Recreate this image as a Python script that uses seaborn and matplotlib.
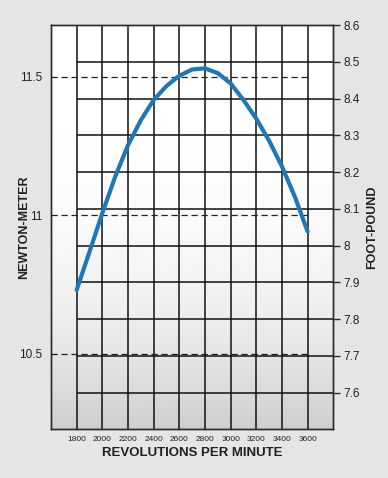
import numpy as np
import pandas as pd
import matplotlib
matplotlib.use("Agg")
import matplotlib.pyplot as plt
import seaborn as sns

# ---- data ----
rpm = [1800, 1900, 2000, 2100, 2200, 2300, 2400, 2500, 2600, 2700,
       2800, 2900, 3000, 3100, 3200, 3300, 3400, 3500, 3600]
torque_ftlb = [7.879, 7.983, 8.088, 8.187, 8.273, 8.341, 8.396, 8.434, 8.462, 8.479,
               8.482, 8.469, 8.441, 8.396, 8.345, 8.285, 8.215, 8.133, 8.038]
rpm_ticks = [1800, 2000, 2200, 2400, 2600, 2800, 3000, 3200, 3400, 3600]
ftlb_ticks = [7.6, 7.7, 7.8, 7.9, 8.0, 8.1, 8.2, 8.3, 8.4, 8.5, 8.6]
ftlb_labels = ["7.6", "7.7", "7.8", "7.9", "8", "8.1", "8.2", "8.3", "8.4", "8.5", "8.6"]
nm_ticks = [10.5, 11.0, 11.5]
nm_labels = ["10.5", "11", "11.5"]

df = pd.DataFrame({"rpm": rpm, "torque": torque_ftlb})

sns.set_theme(style="white")
plt.rcParams["font.family"] = ["Liberation Sans", "DejaVu Sans"]
TXT = "#231f20"

fig = plt.figure(figsize=(3.88, 4.78), dpi=100, facecolor="#e5e5e5")
ax = fig.add_axes([51 / 388, 1 - 429.3 / 478, (333.3 - 51) / 388, (429.3 - 25) / 478])
ax.set_xlim(1600, 3800)
ax.set_ylim(10.227, 11.687)

# gradient background of plot area
t = np.linspace(0, 1, 256).reshape(-1, 1)
shade = 1 - 0.19 * t ** 3
ax.imshow(np.repeat(shade, 2, axis=1), cmap="gray", vmin=0, vmax=1, aspect="auto",
          extent=[0, 1, 0, 1], transform=ax.transAxes, zorder=0, origin="upper")

ax2 = ax.twinx()
ax2.set_ylim(7.5, 8.6)

# grid: vertical lines
ax.vlines(rpm_ticks, 10.227, 11.687, colors="#111111", linewidth=1.1, zorder=2)
# grid: horizontal lines on foot-pound scale, from 1800 to right edge
ax2.hlines(ftlb_ticks, rpm_ticks[0], 3800, colors="#111111", linewidth=1.1, zorder=2)
# dashed newton-meter reference lines
ax.hlines(nm_ticks, 1600, rpm_ticks[-1], colors="#222222", linewidth=0.9,
          linestyles=(0, (5, 3)), zorder=3)

sns.lineplot(data=df, x="rpm", y="torque", ax=ax2, color="#1f77b8", linewidth=3.0,
             zorder=5, legend=False)

for a in (ax, ax2):
    for s in a.spines.values():
        s.set_color("#2a2a2a")
        s.set_linewidth(1.0)

ax.set_xticks(rpm_ticks)
ax.set_xticklabels([str(r) for r in rpm_ticks],
                   fontdict={"family": ["Liberation Sans Narrow", "Liberation Sans"]},
                   fontsize=6, color=TXT)
ax.tick_params(axis="x", length=0, pad=5)
ax.set_yticks(nm_ticks)
ax.set_yticklabels(nm_labels, fontsize=8.5, color=TXT)
ax.tick_params(axis="y", length=0, pad=6)

ax2.set_yticks(ftlb_ticks)
ax2.set_yticklabels(ftlb_labels, fontsize=8.5, color=TXT)
ax2.tick_params(axis="y", length=5, width=1, color="#2a2a2a", pad=2, right=True)

ax.set_xlabel("REVOLUTIONS PER MINUTE", fontsize=9.5, fontweight="bold", color=TXT, labelpad=3)
ax.set_ylabel("NEWTON-METER", fontsize=9, fontweight="bold", color=TXT)
ax.yaxis.set_label_coords((30 - 51) / 282.3, 0.5)
ax2.set_ylabel("FOOT-POUND", fontsize=9, fontweight="bold", color=TXT, rotation=90)
ax2.yaxis.set_label_coords((366 - 51) / 282.3, 0.5)
ax.grid(False)
ax2.grid(False)

fig.savefig("out.png", dpi=100, facecolor=fig.get_facecolor())
